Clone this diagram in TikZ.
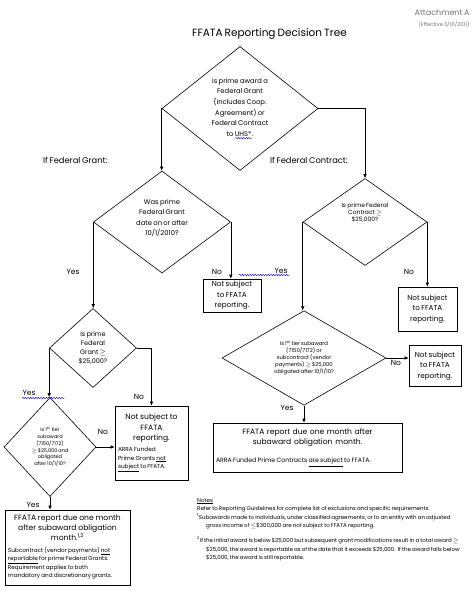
\documentclass[tikz,border=0pt]{standalone}
\usepackage{fontspec}
\setmainfont{Poppins}[WordSpace=0.75]
\usetikzlibrary{shapes.geometric,arrows.meta,decorations.pathmorphing}

\newcommand{\fsz}[2]{\fontsize{#1bp}{#2bp}\selectfont\spaceskip=0pt\xspaceskip=0pt\relax}
\newsavebox{\wavebox}
\newcommand{\spellwave}[1]{\sbox{\wavebox}{#1}\rlap{\usebox{\wavebox}}%
  \tikz[baseline=0pt]{\draw[squiggle] (0pt,-1.6pt) -- (\wd\wavebox,-1.6pt);}}
\newcommand{\smallblock}[3]{\makebox[\linewidth][l]{\fsz{#1}{#2}\begin{tabular}{@{}l@{}}#3\end{tabular}}}

\tikzset{
  decision/.style={diamond, draw, line width=0.6bp, inner sep=0pt, align=center},
  outcome/.style={rectangle, draw, line width=0.6bp, inner sep=2bp, align=center},
  link/.style={line width=0.6bp, -{Latex[length=4bp,width=3.6bp]}},
  lbl/.style={inner sep=0pt, font=\fsz{7.5}{9}},
  squiggle/.style={blue!70!black, line width=0.4bp, decorate,
    decoration={snake, amplitude=0.7bp, segment length=2.6bp}}
}

\begin{document}
\begin{tikzpicture}[x=1bp,y=-1bp]
\useasboundingbox (0,0) rectangle (473,592);

% heading
\node[anchor=east, text=black!55, font=\fsz{8}{9}] (attach) at (473,13) {Attachment A};
\node[anchor=east, text=black!55, font=\fsz{5.3}{6}] (effective) at (473,24) {(Effective 3/01/2011)};
\node[font=\fsz{10.5}{12}] (title) at (269.5,34) {FFATA Reporting Decision Tree};

% decisions
\node[decision, minimum width=156bp, minimum height=124bp, font=\fsz{6.8}{10.7}] (award) at (240,108.5)
  {Is prime award a\\Federal Grant\\(includes Coop.\\Agreement) or\\Federal Contract\\to \spellwave{UHS*}.};
\node[decision, minimum width=137bp, minimum height=102bp, font=\fsz{6.8}{10.5}, text depth=9bp] (grantdate) at (162,222)
  {Was prime\\Federal Grant\\date on or after\\10/1/2010?};
\node[decision, minimum width=124bp, minimum height=87bp, font=\fsz{6}{7}, text depth=20bp] (contractamt) at (365,222)
  {Is prime Federal\\Contract $\geq$\\\$25,000?};
\node[decision, minimum width=164bp, minimum height=85bp, font=\fsz{5.3}{7.2}] (subcontract) at (304,358)
  {Is 1\textsuperscript{st} tier subaward\\(7150/7172) or\\subcontract (vendor\\payments) $\geq$ \$25,000\\obligated after 10/1/10?};
\node[decision, minimum width=87bp, minimum height=79bp, font=\fsz{6.5}{9}] (grantamt) at (93,348)
  {Is prime\\Federal\\Grant $\geq$\\\$25,000?};
\node[decision, minimum width=92bp, minimum height=99bp, font=\fsz{5}{6.8}] (subgrant) at (50,447)
  {Is 1\textsuperscript{st} tier\\subaward\\(7150/7172)\\$\geq$ \$25,000 and\\obligated\\after 10/1/10?};

% outcomes
\node[outcome, minimum width=58bp, minimum height=33bp, font=\fsz{7.2}{10.5}] (nsgrantdate) at (232,295.5)
  {Not subject\\to FFATA\\reporting.};
\node[outcome, minimum width=59bp, minimum height=44bp, font=\fsz{7.2}{10.5}] (nscontract) at (427.5,309)
  {Not subject\\to FFATA\\reporting.};
\node[outcome, minimum width=52bp, minimum height=41bp, font=\fsz{7.2}{10.5}] (nssubcontract) at (435,366)
  {Not subject\\to FFATA\\reporting.};
\node[outcome, minimum width=189bp, minimum height=49bp, text width=183bp] (reportcontract) at (307.5,447.5)
  {{\fsz{7.6}{10.5}FFATA report due one month after\\subaward obligation month.\par}
   \vspace{7bp}
   \smallblock{6.2}{7}{ARRA Funded Prime Contracts \underline{are subject} to FFATA.}};
\node[outcome, minimum width=73bp, minimum height=74bp, text width=67bp] (nsgrantamt) at (151.5,443)
  {{\fsz{7.6}{10.5}Not subject to\\FFATA\\reporting.\par}
   \vspace{2bp}
   \smallblock{5.8}{8.6}{ARRA Funded\\Prime Grants \underline{not}\\\underline{subject} to FFATA.}};
\node[outcome, minimum width=125bp, minimum height=75bp, text width=119bp] (reportgrant) at (67.5,547.5)
  {{\fsz{7.6}{9.8}FFATA report due one month\\after subaward obligation\\month.\textsuperscript{1,2}\par}
   \vspace{6bp}
   \smallblock{5.7}{7.9}{Subcontract (vendor payments) \underline{not}\\\underline{reportable} for prime Federal Grants.\\Requirement applies to both\\mandatory and discretionary grants.}};

% connectors
\draw[link] (award.west) -- (award.west |- grantdate.north);
\draw[link] (award.east) -- (contractamt.north |- award.east) -- (contractamt.north);
\draw[link] (grantdate.east) -- (grantdate.east |- nsgrantdate.north);
\draw[link] (grantdate.west) -- (grantdate.west |- grantamt.north);
\draw[link] (contractamt.west) -- (contractamt.west |- subcontract.north);
\draw[link] (contractamt.east) -- (contractamt.east |- nscontract.north);
\draw[link] (subcontract.east) -- (subcontract.east -| nssubcontract.west);
\draw[link] (subcontract.south) -- (subcontract.south |- reportcontract.north);
\draw[link] (grantamt.east) -- (nsgrantamt.north |- grantamt.east) -- (nsgrantamt.north);
\draw[link] (grantamt.west) -- (grantamt.west |- subgrant.north);
\draw[link] (subgrant.east) -- (subgrant.east -| nsgrantamt.west);
\draw[link] (subgrant.south) -- (subgrant.south |- reportgrant.north);

% branch labels
\node[lbl, anchor=west, font=\fsz{8.3}{10}] (ifgrant) at (43,160) {If Federal Grant:};
\node[lbl, anchor=west, font=\fsz{8.3}{10}] (ifcontract) at (270,160) {If Federal Contract:};
\node[lbl] (yesgrantdate) at (73,272) {Yes};
\node[lbl] (nograntdate) at (217,272) {No};
\node[lbl] (yescontract) at (281,271) {Yes};
\node[lbl] (nocontract) at (409,272) {No};
\node[lbl] (nosubcontract) at (396,363) {No};
\node[lbl] (yessubcontract) at (287,408) {Yes};
\node[lbl] (yesgrantamt) at (29,393) {Yes};
\node[lbl] (nograntamt) at (139,397) {No};
\node[lbl] (nosubgrant) at (103,432) {No};
\node[lbl] (yessubgrant) at (33,505) {Yes};
\draw[squiggle] (239,275) -- (290,275);
\draw[squiggle] (22,398) -- (65,398);

% notes
\node[anchor=north west, inner sep=0pt, align=left, font=\fsz{5.5}{8.6}] (notes) at (197,498)
  {\underline{Notes}\\
   Refer to Reporting Guidelines for complete list of exclusions and specific requirements.\\
   \textsuperscript{1}Subawards made to individuals, under classified agreements, or to an entity with an adjusted\\
   \hspace*{9bp}gross income of $\leq$\$300,000 are not subject to FFATA reporting.\\[6bp]
   \textsuperscript{2}If the initial award is below \$25,000 but subsequent grant modifications result in a total award $\geq$\\
   \hspace*{9bp}\$25,000, the award is reportable as of the date that it exceeds \$25,000.\ \ If the award falls below\\
   \hspace*{9bp}\$25,000, the award is still reportable.};

\end{tikzpicture}
\end{document}
